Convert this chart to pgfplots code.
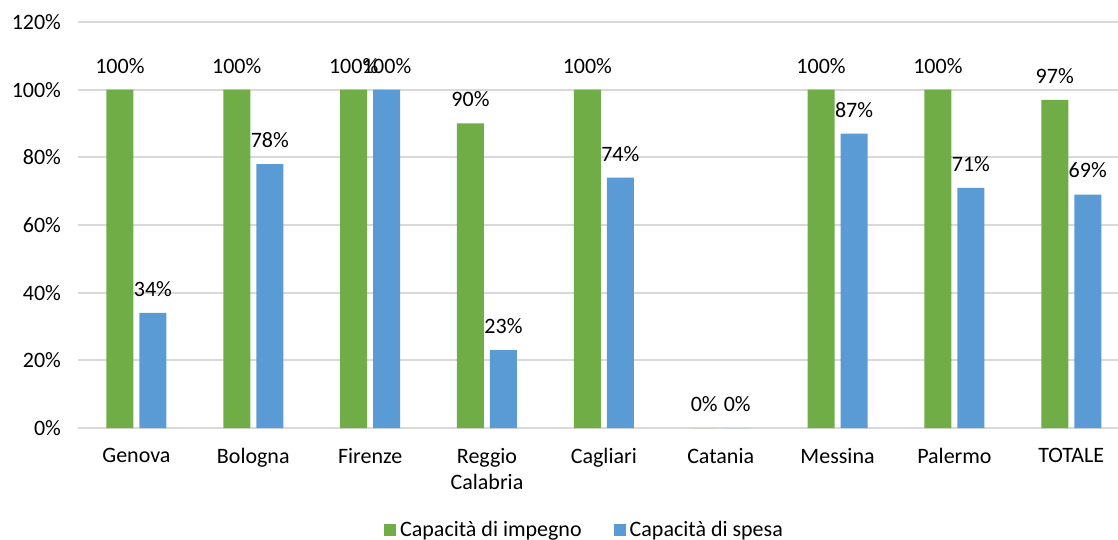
\documentclass[border=0pt]{standalone}
\usepackage{pgfplots}
\pgfplotsset{compat=1.18}
\usepackage{fontspec}
\setmainfont{Carlito}
\definecolor{cgreen}{HTML}{70AD47}
\definecolor{cblue}{HTML}{5B9BD5}
\definecolor{cgrid}{HTML}{D9D9D9}
\begin{document}
\begin{tikzpicture}
\begin{axis}[
  scale only axis,
  width=520pt, height=203pt,
  ybar=3pt, bar width=13.5pt,
  xmin=-0.5, xmax=8.4,
  ymin=0, ymax=120,
  ytick={0,20,...,120},
  xtick={0,...,8},
  xticklabels={Genova,Bologna,Firenze,{Reggio\\Calabria},Cagliari,Catania,Messina,Palermo,TOTALE},
  x tick label style={align=center, yshift=-2.5pt},
  yticklabel={\pgfmathprintnumber{\tick}\%},
  y tick label style={xshift=-5pt},
  /pgf/number format/assume math mode=true,
  ymajorgrids, major grid style={cgrid, line width=1pt},
  axis line style={draw=none},
  tick style={draw=none},
  font=\fontsize{11pt}{13pt}\selectfont,
  point meta=y,
  nodes near coords={\pgfmathprintnumber[fixed,precision=0]{\pgfplotspointmeta}\%},
  nodes near coords style={anchor=center, yshift=12pt, text=black},
  clip=false,
  legend columns=2,
  legend style={draw=none, at={(0.488,-0.251)}, anchor=center, /tikz/every even column/.append style={column sep=14pt}},
  legend image code/.code={\fill[#1] (0pt,-3pt) rectangle (6pt,3pt);},
]
\addplot[fill=cgreen, draw=none] coordinates {(0,100) (1,100) (2,100) (3,90) (4,100) (5,0) (6,100) (7,100) (8,97)};
\addplot[fill=cblue, draw=none] coordinates {(0,34) (1,78) (2,100) (3,23) (4,74) (5,0) (6,87) (7,71) (8,69)};
\legend{Capacità di impegno, Capacità di spesa}
\end{axis}
\pgfresetboundingbox
\path (current axis.south west) ++(-39pt,-56pt) rectangle ++(559pt,270pt);
\end{tikzpicture}
\end{document}
